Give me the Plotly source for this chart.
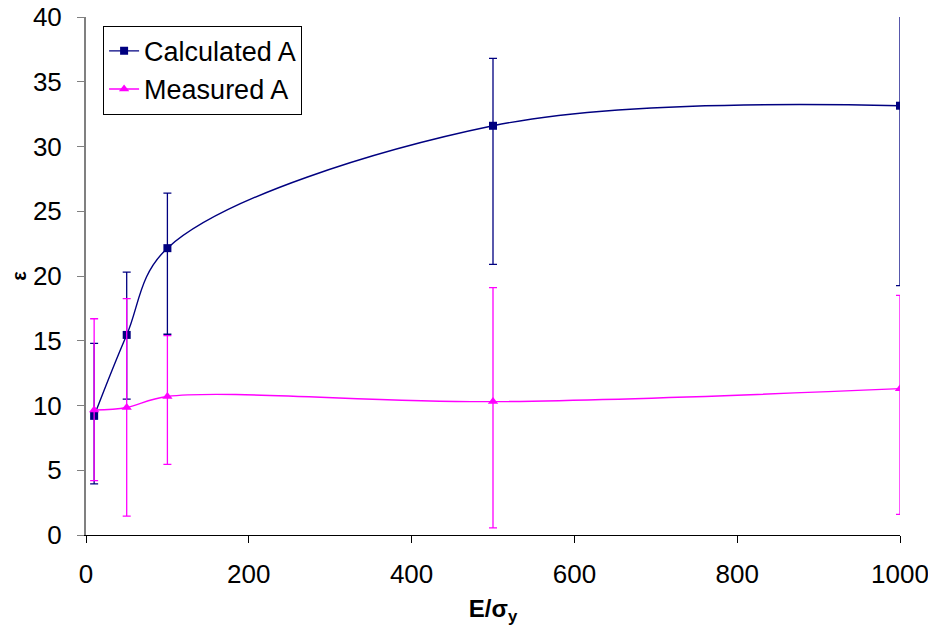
import plotly.graph_objects as go

x_vals = [10, 50, 100, 500, 1000]

calc_y = [9.2, 15.45, 22.15, 31.6, 33.15]
calc_upper = [14.8, 20.3, 26.4, 36.8, 47.0]
calc_lower = [3.95, 10.5, 15.5, 20.9, 19.25]

meas_y = [9.65, 9.85, 10.7, 10.3, 11.3]
meas_upper = [16.7, 18.25, 15.4, 19.1, 18.5]
meas_lower = [4.2, 1.45, 5.45, 0.55, 1.6]

x_ticks = [0, 200, 400, 600, 800, 1000]
y_ticks = [0, 5, 10, 15, 20, 25, 30, 35, 40]

FONT = "Liberation Sans, Arial, sans-serif"

def err(y, up, lo):
    return dict(
        type="data", symmetric=False,
        array=[u - v for u, v in zip(up, y)],
        arrayminus=[v - l for v, l in zip(y, lo)],
        width=4, thickness=1.3,
    )

fig = go.Figure()
fig.add_trace(go.Scatter(
    x=x_vals, y=calc_y, name="Calculated A", mode="lines+markers",
    line=dict(color="#000080", width=1.4, shape="spline", smoothing=1),
    marker=dict(symbol="square", size=8, color="#000080"),
    error_y=dict(**err(calc_y, calc_upper, calc_lower), color="#000080"),
))
fig.add_trace(go.Scatter(
    x=x_vals, y=meas_y, name="Measured A", mode="lines+markers",
    line=dict(color="#FF00FF", width=1.4, shape="spline", smoothing=1),
    marker=dict(symbol="triangle-up", size=9, color="#FF00FF"),
    error_y=dict(**err(meas_y, meas_upper, meas_lower), color="#FF00FF"),
))

fig.update_layout(
    width=936, height=634,
    margin=dict(l=78, r=44, t=9, b=107, autoexpand=False),
    paper_bgcolor="white", plot_bgcolor="white",
    font=dict(family=FONT, size=26, color="black"),
    showlegend=True,
    legend=dict(
        x=0.021, y=0.983, xanchor="left", yanchor="top",
        bordercolor="black", borderwidth=1, bgcolor="white",
        font=dict(size=27), tracegroupgap=0, itemwidth=30,
    ),
    xaxis=dict(
        range=[0, 1000], tickvals=x_ticks, showgrid=False, zeroline=False,
        showline=True, linecolor="black", linewidth=1, automargin=False,
        ticks="outside", ticklen=7, tickcolor="black",
        tickfont=dict(size=26), ticklabelstandoff=9, ticklabeloverflow="allow",
        title=dict(text="<b>E/σ<sub>y</sub></b>", font=dict(size=24), standoff=11),
    ),
    yaxis=dict(
        range=[0, 40], tickvals=y_ticks, showgrid=False, zeroline=False,
        showline=True, linecolor="#808080", linewidth=2, automargin=False,
        ticks="outside", ticklen=7, tickcolor="#808080",
        tickfont=dict(size=26), ticklabelstandoff=10, ticklabeloverflow="allow",
        title=dict(text="<b>ε</b>", font=dict(size=20), standoff=4),
    ),
)

fig.write_html("out.html")
